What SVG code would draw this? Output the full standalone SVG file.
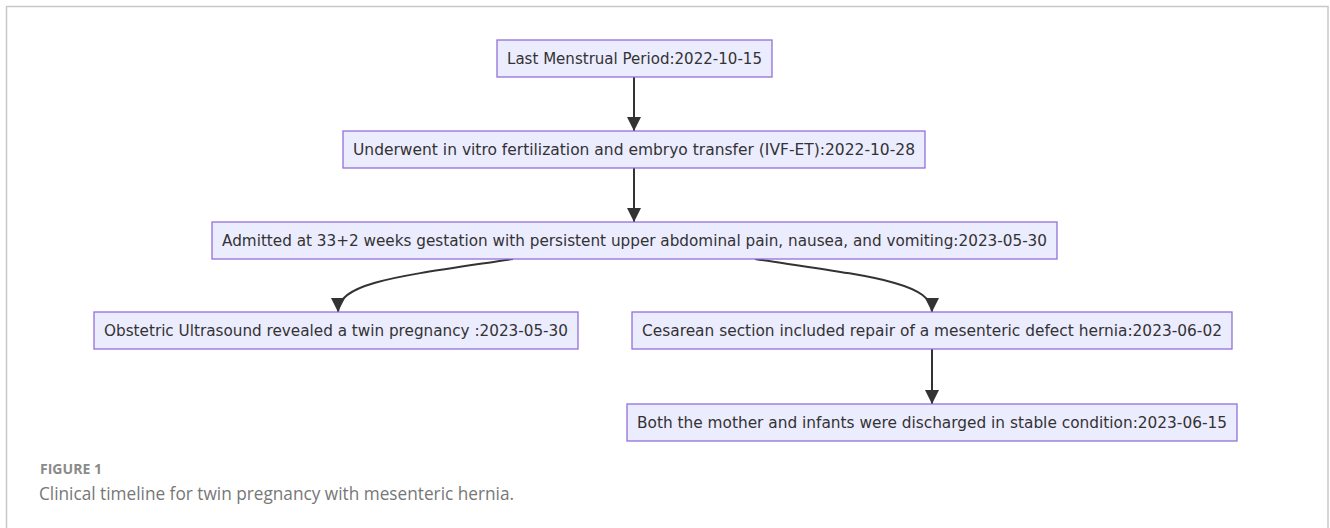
<svg xmlns="http://www.w3.org/2000/svg" width="1330" height="528" viewBox="0 0 1330 528">
<style>
.frame{fill:none;stroke:#c8c8c8;stroke-width:1.5}
.node rect{fill:#ECECFF;stroke:#9370DB;stroke-width:1.3}
.node text{font-family:"DejaVu Sans","Liberation Sans",sans-serif;font-size:15.5px;fill:#333;text-anchor:middle;dominant-baseline:central}
.edge{fill:none;stroke:#333;stroke-width:2}
.cap1{font-family:"Open Sans","Liberation Sans",sans-serif;font-size:13.5px;font-weight:bold;fill:#8a8a8a}
.cap2{font-family:"Open Sans","Liberation Sans",sans-serif;font-size:17.5px;fill:#777}
</style>
<defs>
<marker id="arr" viewBox="0 0 10 10" refX="10" refY="5" markerWidth="14" markerHeight="14" markerUnits="userSpaceOnUse" orient="auto">
<path d="M0,0 L10,5 L0,10 z" fill="#333"/>
</marker>
</defs>
<rect width="1330" height="528" fill="#fff"/>
<path class="frame" d="M6.5,528 V6.5 H1328 V528"/>
<g id="connectors">
<path class="edge" d="M634,77 V131" marker-end="url(#arr)"/>
<path class="edge" d="M634,168 V222" marker-end="url(#arr)"/>
<path class="edge" d="M513,259 C400,276 338,282 338,312" marker-end="url(#arr)"/>
<path class="edge" d="M755,259 C868,276 932,282 932,312" marker-end="url(#arr)"/>
<path class="edge" d="M932,349 V404" marker-end="url(#arr)"/>
</g>
<g id="n1" class="node"><rect x="497" y="40" width="275" height="37"/><text x="634.5" y="58.5" textLength="255" lengthAdjust="spacingAndGlyphs">Last Menstrual Period:2022-10-15</text></g>
<g id="n2" class="node"><rect x="343" y="131" width="582" height="37"/><text x="634" y="149.5" textLength="562" lengthAdjust="spacingAndGlyphs">Underwent in vitro fertilization and embryo transfer (IVF-ET):2022-10-28</text></g>
<g id="n3" class="node"><rect x="212" y="222" width="845" height="37"/><text x="634.5" y="240.5" textLength="825" lengthAdjust="spacingAndGlyphs">Admitted at 33+2 weeks gestation with persistent upper abdominal pain, nausea, and vomiting:2023-05-30</text></g>
<g id="n4" class="node"><rect x="94" y="312" width="484" height="37"/><text x="336" y="330.5" textLength="464" lengthAdjust="spacingAndGlyphs">Obstetric Ultrasound revealed a twin pregnancy :2023-05-30</text></g>
<g id="n5" class="node"><rect x="632" y="312" width="600" height="37"/><text x="932" y="330.5" textLength="580" lengthAdjust="spacingAndGlyphs">Cesarean section included repair of a mesenteric defect hernia:2023-06-02</text></g>
<g id="n6" class="node"><rect x="627" y="404" width="610" height="37"/><text x="932" y="422.5" textLength="590" lengthAdjust="spacingAndGlyphs">Both the mother and infants were discharged in stable condition:2023-06-15</text></g>
<text class="cap1" x="40" y="474" textLength="62" lengthAdjust="spacingAndGlyphs">FIGURE 1</text>
<text class="cap2" x="39" y="500" textLength="475" lengthAdjust="spacingAndGlyphs">Clinical timeline for twin pregnancy with mesenteric hernia.</text>
</svg>
